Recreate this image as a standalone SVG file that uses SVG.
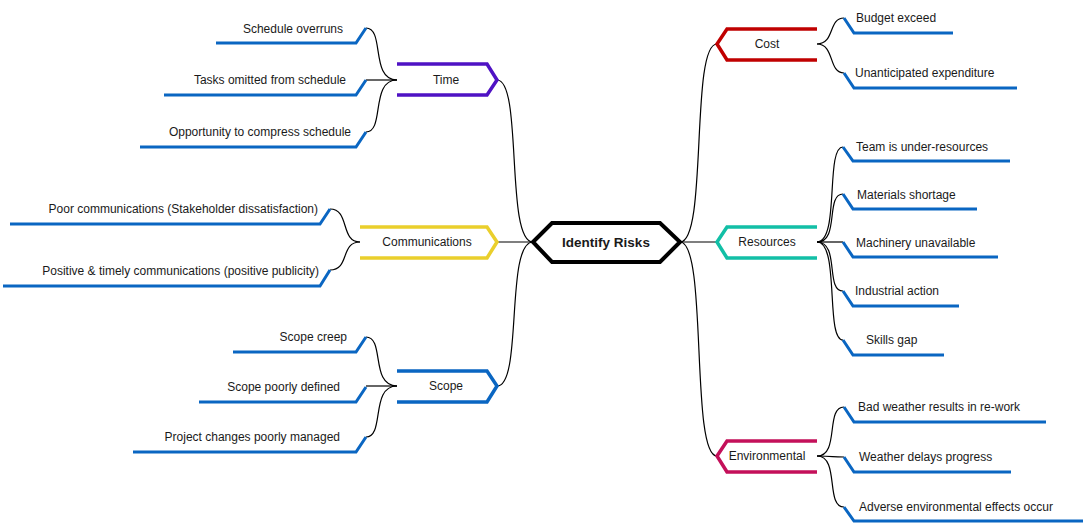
<svg xmlns="http://www.w3.org/2000/svg" width="1088" height="523" viewBox="0 0 1088 523">
<style>
text{font-family:"Liberation Sans",Arial,sans-serif;font-size:12px;fill:#1a1a1a}
.leaf{fill:none;stroke:#0A66C2;stroke-width:3}
.br{fill:none;stroke-width:3.5}
.c{fill:none;stroke:#000;stroke-width:1.2}
.r{text-anchor:end}
.m{text-anchor:middle}
</style>
<rect width="1088" height="523" fill="#fff"/>
<g id="connectors">
<path class="c" d="M533,242 C505,242 523,80 497,80"/>
<path class="c" d="M533,242 H497"/>
<path class="c" d="M533,242 C505,242 523,386 497,386"/>
<path class="c" d="M680,242 C708,242 690,44 717,44"/>
<path class="c" d="M680,242 H717"/>
<path class="c" d="M680,242 C708,242 690,456 717,456"/>
<path class="c" d="M397,80 C370,80 385,28 366,28"/>
<path class="c" d="M397,80 H366"/>
<path class="c" d="M397,80 C370,80 385,132 366,132"/>
<path class="c" d="M360,242 C340,242 350,209 330,209"/>
<path class="c" d="M360,242 C340,242 350,270 330,270"/>
<path class="c" d="M397,386 C370,386 385,337 366,337"/>
<path class="c" d="M397,386 H366"/>
<path class="c" d="M397,386 C370,386 385,437 366,437"/>
<path class="c" d="M817,44 C835,44 828,18 844,18"/>
<path class="c" d="M817,44 C835,44 828,73 844,73"/>
<path class="c" d="M817,242 C840,242 825,147 843,147"/>
<path class="c" d="M817,242 C840,242 825,194 843,194"/>
<path class="c" d="M817,242 H843"/>
<path class="c" d="M817,242 C840,242 825,291 843,291"/>
<path class="c" d="M817,242 C840,242 825,340 843,340"/>
<path class="c" d="M817,456 C840,456 825,407 844,407"/>
<path class="c" d="M817,456 C835,456 830,457 844,457"/>
<path class="c" d="M817,456 C840,456 825,507 844,507"/>
</g>
<g id="center">
<polygon points="533,242 552,223 660,223 680,242 660,262 552,262" fill="#fff" stroke="#000" stroke-width="4"/>
<text x="606" y="247" class="m" style="font-size:13.5px;font-weight:bold">Identify Risks</text>
</g>
<g id="time"><path class="br" stroke="#4F12C4" d="M397,64 H487 L497,80 L487,95 H397"/><text x="446" y="84" class="m">Time</text></g>
<g id="communications"><path class="br" stroke="#EACF2C" d="M360,227 H487 L497,242 L487,258 H360"/><text x="427" y="246" class="m">Communications</text></g>
<g id="scope"><path class="br" stroke="#0A66C2" d="M397,371 H487 L497,386 L487,402 H397"/><text x="446" y="390" class="m">Scope</text></g>
<g id="cost"><path class="br" stroke="#C00000" d="M817,29 H727 L717,44 L727,60 H817"/><text x="767" y="48" class="m">Cost</text></g>
<g id="resources"><path class="br" stroke="#12BFA6" d="M817,227 H727 L717,242 L727,258 H817"/><text x="767" y="246" class="m">Resources</text></g>
<g id="environmental"><path class="br" stroke="#C4105A" d="M817,441 H727 L717,456 L727,472 H817"/><text x="767" y="460" class="m">Environmental</text></g>
<g id="l1"><path class="leaf" d="M216,43 H356 L366,28"/><text x="343" y="33" class="r">Schedule overruns</text></g>
<g id="l2"><path class="leaf" d="M164,95 H356 L366,80"/><text x="346" y="84" class="r">Tasks omitted from schedule</text></g>
<g id="l3"><path class="leaf" d="M140,147 H356 L366,132"/><text x="351" y="136" class="r">Opportunity to compress schedule</text></g>
<g id="l4"><path class="leaf" d="M10,224 H320 L330,209"/><text x="318" y="213" class="r">Poor communications (Stakeholder dissatisfaction)</text></g>
<g id="l5"><path class="leaf" d="M3,286 H320 L330,270"/><text x="319" y="275" class="r">Positive &amp; timely communications (positive publicity)</text></g>
<g id="l6"><path class="leaf" d="M233,352 H356 L366,337"/><text x="347" y="341" class="r">Scope creep</text></g>
<g id="l7"><path class="leaf" d="M199,402 H356 L366,387"/><text x="340" y="391" class="r">Scope poorly defined</text></g>
<g id="l8"><path class="leaf" d="M133,452 H356 L366,437"/><text x="340" y="441" class="r">Project changes poorly managed</text></g>
<g id="r1"><path class="leaf" d="M844,18 L854,33 H953"/><text x="856" y="22">Budget exceed</text></g>
<g id="r2"><path class="leaf" d="M844,73 L854,88 H1017"/><text x="855" y="77">Unanticipated expenditure</text></g>
<g id="r3"><path class="leaf" d="M843,147 L853,161 H1010"/><text x="856" y="151">Team is under-resources</text></g>
<g id="r4"><path class="leaf" d="M843,194 L853,209 H977"/><text x="857" y="199">Materials shortage</text></g>
<g id="r5"><path class="leaf" d="M843,242 L853,257 H998"/><text x="856" y="247">Machinery unavailable</text></g>
<g id="r6"><path class="leaf" d="M843,291 L853,306 H959"/><text x="855" y="295">Industrial action</text></g>
<g id="r7"><path class="leaf" d="M843,340 L853,355 H944"/><text x="866" y="344">Skills gap</text></g>
<g id="r8"><path class="leaf" d="M844,407 L854,422 H1046"/><text x="858" y="411">Bad weather results in re-work</text></g>
<g id="r9"><path class="leaf" d="M844,457 L854,472 H1011"/><text x="859" y="461">Weather delays progress</text></g>
<g id="r10"><path class="leaf" d="M844,507 L854,521 H1083"/><text x="859" y="511">Adverse environmental effects occur</text></g>
</svg>
